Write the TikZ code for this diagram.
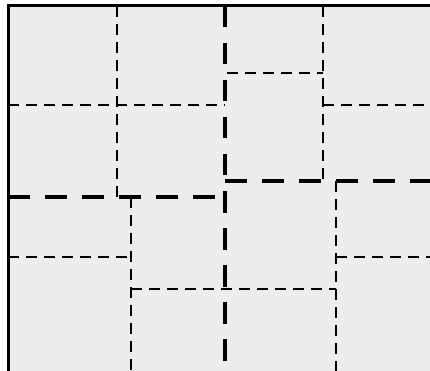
\documentclass[tikz,border=0pt]{standalone}
\begin{document}
\begin{tikzpicture}[x=1pt,y=-1pt,
  thin dash/.style={line width=2.2pt,dash pattern=on 11pt off 7pt},
  thick dash/.style={line width=4.2pt,dash pattern=on 21.5pt off 15.5pt},
  frame/.style={line width=3pt,fill=panel}]
\definecolor{panel}{HTML}{EDEDED}
\useasboundingbox (0,0) rectangle (430,371);
\clip (0,0) rectangle (430,371);
\draw[frame] (8,6) rectangle (440,380);
% thin dashed lines
\draw[thin dash] (117,6) -- (117,197);
\draw[thin dash] (8,105) -- (225,105);
\draw[thin dash] (227,73) -- (323,73);
\draw[thin dash] (323,6) -- (323,181);
\draw[thin dash] (323,105) -- (430,105);
\draw[thin dash] (336,181) -- (336,371);
\draw[thin dash] (336,257) -- (430,257);
\draw[thin dash] (131,197) -- (131,371);
\draw[thin dash] (8,257) -- (131,257);
\draw[thin dash] (131,289) -- (336,289);
% thick dashed lines
\draw[thick dash] (225,6) -- (225,371);
\draw[thick dash] (8,197) -- (225,197);
\draw[thick dash] (225,181) -- (323,181);
\draw[thick dash] (336,181) -- (430,181);
\end{tikzpicture}
\end{document}
